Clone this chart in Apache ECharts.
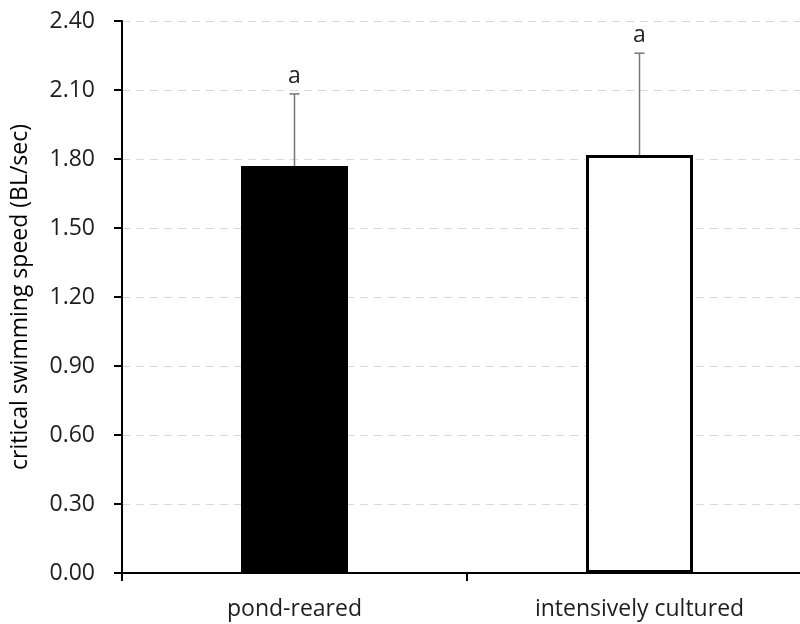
<!DOCTYPE html>
<html><head><meta charset="utf-8">
<script src="https://cdn.jsdelivr.net/npm/echarts@6/dist/echarts.min.js"></script>
<style>html,body{margin:0;padding:0;background:#fff}#c{width:800px;height:624px}</style>
</head><body><div id="c"></div>
<script>
const categories = ['pond-reared', 'intensively cultured'];
const means = [1.77, 1.817];
const errUpper = [2.083, 2.26];
const letters = ['a', 'a'];
const yTicks = ['0.00','0.30','0.60','0.90','1.20','1.50','1.80','2.10','2.40'];

const chart = echarts.init(document.getElementById('c'));
const FONT = 'Open Sans';
chart.setOption({
  animation: false,
  grid: { left: 122, top: 21, bottom: 51, right: -12, outerBoundsMode: 'none', containLabel: false },
  xAxis: {
    type: 'category', data: categories,
    axisLine: { lineStyle: { color: '#000', width: 2 } },
    axisTick: { show: true, length: 8, lineStyle: { color: '#000', width: 2 } },
    axisLabel: { color: '#1e1e1e', fontSize: 23, fontFamily: FONT, margin: 25 }
  },
  yAxis: {
    type: 'value', min: 0, max: 2.4, interval: 0.3,
    name: 'critical swimming speed (BL/sec)', nameLocation: 'middle', nameGap: 90,
    nameTextStyle: { color: '#000', fontSize: 23, fontFamily: FONT },
    axisLine: { show: true, lineStyle: { color: '#000', width: 2 } },
    axisTick: { show: true, length: 8, lineStyle: { color: '#000', width: 2 } },
    axisLabel: { color: '#1e1e1e', fontSize: 23, fontFamily: FONT, margin: 27,
      formatter: v => yTicks[Math.round(v / 0.3)] },
    splitLine: { lineStyle: { color: '#d9d9d9', type: [8, 6], width: 1 } }
  },
  series: [
    {
      type: 'bar', barWidth: 107,
      data: means.map((v, i) => ({ value: v, itemStyle: i === 0
        ? { color: '#000', borderColor: '#000', borderWidth: 2 }
        : { color: '#fff', borderColor: '#000', borderWidth: 3 } })),
      z: 2
    },
    {
      type: 'custom', z: 3,
      data: means.map((v, i) => [i, v, errUpper[i]]),
      renderItem: (params, api) => {
        const x = api.coord([api.value(0), 0])[0];
        const yb = api.coord([api.value(0), api.value(1)])[1];
        const yt = api.coord([api.value(0), api.value(2)])[1];
        return { type: 'group', children: [
          { type: 'line', shape: { x1: x, y1: yb, x2: x, y2: yt }, style: { stroke: '#767676', lineWidth: 1.5 } },
          { type: 'line', shape: { x1: x - 5, y1: yt, x2: x + 5, y2: yt }, style: { stroke: '#767676', lineWidth: 1.5 } },
          { type: 'text', x: x, y: yt - 6, style: { text: letters[params.dataIndex], fill: '#262626',
            font: '23px "' + FONT + '"', textAlign: 'center', textVerticalAlign: 'bottom' } }
        ] };
      }
    }
  ]
});
</script></body></html>
